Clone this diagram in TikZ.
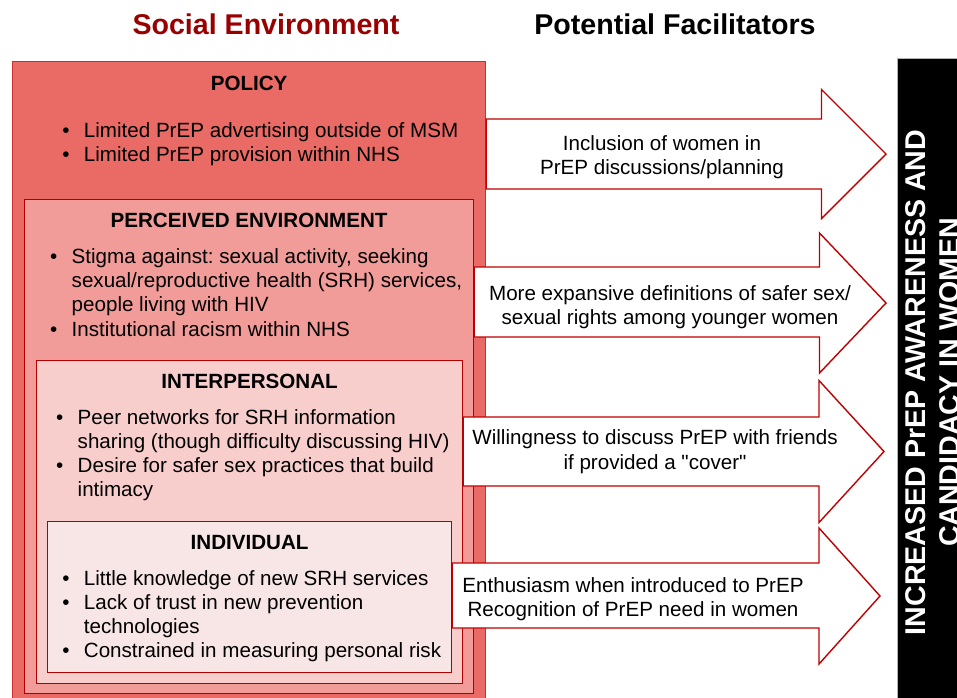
\documentclass[tikz,border=0pt]{standalone}
\usepackage{fontspec}
\setmainfont{Liberation Sans}
\usepackage{xcolor}
\usepackage{tikz}
\usetikzlibrary{positioning}
\definecolor{policyfill}{HTML}{EA6B66}
\definecolor{perceivedfill}{HTML}{F19C99}
\definecolor{interfill}{HTML}{F8CECC}
\definecolor{indivfill}{HTML}{F8E6E6}
\definecolor{outerline}{HTML}{C8302C}
\definecolor{boxline}{HTML}{B20000}
\definecolor{arrowline}{HTML}{C00000}
\definecolor{titlered}{HTML}{990000}
\newcommand\bul{\makebox[0pt][c]{\textbullet}\hspace*{18pt}}
\newcommand\ind{\hspace*{18pt}}
\frenchspacing

\begin{document}
\begin{tikzpicture}[
  x=1pt, y=-1pt,
  layer/.style={rectangle, line width=1.2pt, inner sep=0pt, anchor=north west},
  head/.style={font=\fontsize{20.6}{24.2}\selectfont\bfseries, inner sep=0pt, anchor=base},
  list/.style={font=\fontsize{20.6}{24.2}\selectfont, align=left, inner sep=0pt, anchor=base west},
  factext/.style={font=\fontsize{20.6}{24.2}\selectfont, align=center, inner sep=0pt, anchor=base},
  title/.style={font=\fontsize{28.6}{33}\selectfont\bfseries, inner sep=0pt, anchor=base},
  bartext/.style={font=\fontsize{28.6}{33}\selectfont\bfseries, text=white, rotate=90, inner sep=0pt, anchor=base},
  facarrow/.style={fill=white, draw=arrowline, line width=1.4pt, line join=miter}
]
\clip (0,0) rectangle (957,697);

% --- titles ---
\node[title, text=titlered] (socialTitle) at (266,34) {Social Environment};
\node[title] (facTitle) at (675,34) {Potential Facilitators};

% --- nested layers ---
\node[layer, fill=policyfill, draw=outerline, minimum width=473, minimum height=645] (policy) at (12,61) {};
\node[layer, fill=perceivedfill, draw=boxline, minimum width=449, minimum height=494] (perceived) at (24,199) {};
\node[layer, fill=interfill, draw=boxline, minimum width=426, minimum height=322.5] (inter) at (36,360) {};
\node[layer, fill=indivfill, draw=boxline, minimum width=404, minimum height=150.5] (indiv) at (47,521) {};

% lists sit on the baseline of their last line
\node[head] (policyHead) at (policy.north |- 0,90.7) {POLICY};
\node[list] (policyList) at (65.7,161.7)
  {\bul Limited PrEP advertising outside of MSM\\
   \bul Limited PrEP provision within NHS};

\node[head] (perceivedHead) at (perceived.north |- 0,227.3) {PERCEIVED ENVIRONMENT};
\node[list] (perceivedList) at (53.5,336.1)
  {\bul Stigma against: sexual activity, seeking\\
   \ind sexual/reproductive health (SRH) services,\\
   \ind people living with HIV\\
   \bul Institutional racism within NHS};

\node[head] (interHead) at (inter.north |- 0,388.3) {INTERPERSONAL};
\node[list] (interList) at (59.5,496.6)
  {\bul Peer networks for SRH information\\
   \ind sharing (though difficulty discussing HIV)\\
   \bul Desire for safer sex practices that build\\
   \ind intimacy};

\node[head] (indivHead) at (indiv.north |- 0,549.3) {INDIVIDUAL};
\node[list] (indivList) at (65.7,657.6)
  {\bul Little knowledge of new SRH services\\
   \bul Lack of trust in new prevention\\
   \ind technologies\\
   \bul Constrained in measuring personal risk};

% --- facilitator arrows ---
\draw[facarrow] (policy.east |- 0,119) -- (821.5,119) -- (821.5,89.5) -- (886,154)
  -- (821.5,218.5) -- (821.5,189) -- (policy.east |- 0,189) -- cycle;
\draw[facarrow] (perceived.east |- 0,267) -- (819.5,267) -- (819.5,233) -- (886,303)
  -- (819.5,373) -- (819.5,337) -- (perceived.east |- 0,337) -- cycle;
\draw[facarrow] (inter.east |- 0,417) -- (819,417) -- (819,380.5) -- (884,451.5)
  -- (819,522.5) -- (819,486) -- (inter.east |- 0,486) -- cycle;
\draw[facarrow] (indiv.east |- 0,563) -- (819,563) -- (819,528) -- (880,596)
  -- (819,664) -- (819,628) -- (indiv.east |- 0,628) -- cycle;

\node[factext] (fac1) at (662,174.3) {Inclusion of women in\\PrEP discussions/planning};
\node[factext] (fac2) at (670,324.3) {More expansive definitions of safer sex/\\sexual rights among younger women};
\node[factext] (fac3) at (655,469) {Willingness to discuss PrEP with friends\\if provided a \textquotedbl cover\textquotedbl};
\node[factext] (fac4) at (633,616.7) {Enthusiasm when introduced to PrEP\\Recognition of PrEP need in women};

% --- outcome bar ---
\node[rectangle, fill=black, draw=gray!60, line width=0.8pt, minimum width=90, minimum height=650,
  inner sep=0pt, anchor=north west] (outcome) at (897.3,58.3) {};
\node[bartext] (barA) at (925.7,382.5) {INCREASED PrEP AWARENESS AND};
\node[bartext] (barB) at (959.5,382.5) {CANDIDACY IN WOMEN};

\end{tikzpicture}
\end{document}
